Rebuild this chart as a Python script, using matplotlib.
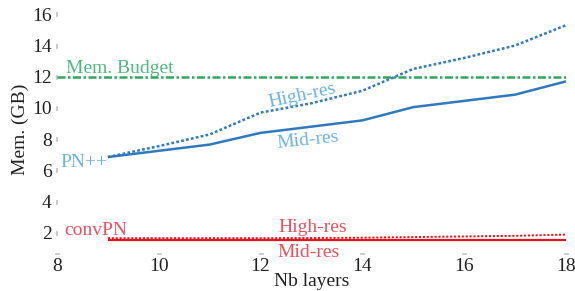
import matplotlib
matplotlib.use('Agg')
import matplotlib.pyplot as plt

# 数据
layers = [9, 10, 11, 12, 13, 14, 15, 16, 17, 18]
pn_mid = [6.85, 7.25, 7.65, 8.4, 8.8, 9.2, 10.05, 10.45, 10.85, 11.7]
pn_high = [6.85, 7.55, 8.3, 9.7, 10.3, 11.1, 12.5, 13.2, 14.0, 15.3]
conv_mid = [1.55, 1.55, 1.55, 1.55, 1.55, 1.55, 1.55, 1.55, 1.55, 1.55]
conv_high = [1.65, 1.65, 1.65, 1.65, 1.66, 1.68, 1.72, 1.76, 1.8, 1.88]
budget = 12
xticks = [8, 10, 12, 14, 16, 18]
yticks = [2, 4, 6, 8, 10, 12, 14, 16]

blue = '#2f7abf'
blue_txt = '#69b3e3'
red = '#e3141e'
red_txt = '#e8505d'
green = '#2ea85a'
green_txt = '#4db882'

plt.rcParams['font.family'] = ['Liberation Serif', 'DejaVu Serif']
plt.rcParams['font.size'] = 14

fig = plt.figure(figsize=(5.75, 2.91), dpi=100)
ax = fig.add_axes([0.0991, 0.1306, 0.8852, 0.8524])

ax.axhline(budget, color=green, lw=1.8, linestyle=(0, (3.2, 1, 1, 1)))
ax.plot(layers, pn_mid, color=blue, lw=1.8, solid_capstyle='butt')
ax.plot(layers, pn_high, color=blue, lw=1.8, linestyle=(0, (1.1, 0.9)))
ax.plot(layers, conv_mid, color=red, lw=1.6, solid_capstyle='butt')
ax.plot(layers, conv_high, color=red, lw=1.4, linestyle=(0, (1.1, 0.9)))

ax.text(8.18, 12.26, 'Mem. Budget', color=green_txt, ha='left', va='baseline')
ax.text(8.06, 6.22, 'PN++', color=blue_txt, ha='left', va='baseline')
ax.text(12.81, 10.8, 'High-res', color=blue_txt, ha='center', va='center',
        rotation=12, rotation_mode='anchor')
ax.text(12.92, 7.95, 'Mid-res', color=blue_txt, ha='center', va='center',
        rotation=6, rotation_mode='anchor')
ax.text(8.14, 1.86, 'convPN', color=red_txt, ha='left', va='baseline')
ax.text(13.02, 2.07, 'High-res', color=red_txt, ha='center', va='baseline')
ax.text(12.94, 0.45, 'Mid-res', color=red_txt, ha='center', va='baseline')

ax.set_xlim(8, 18)
ax.set_ylim(0.7, 16.6)
ax.set_xticks(xticks)
ax.set_yticks(yticks)
for s in ax.spines.values():
    s.set_visible(False)
ax.tick_params(axis='y', length=0.8, width=3.5, color='#999999', pad=3,
               labelcolor='#222222')
ax.tick_params(axis='x', length=0.8, width=3.5, color='#999999', pad=3,
               labelcolor='#222222')

ax.set_xlabel('Nb layers', color='#222222', labelpad=-1.5)
ax.set_ylabel('Mem. (GB)', color='#222222', labelpad=2)

plt.savefig('out.png', dpi=100)
